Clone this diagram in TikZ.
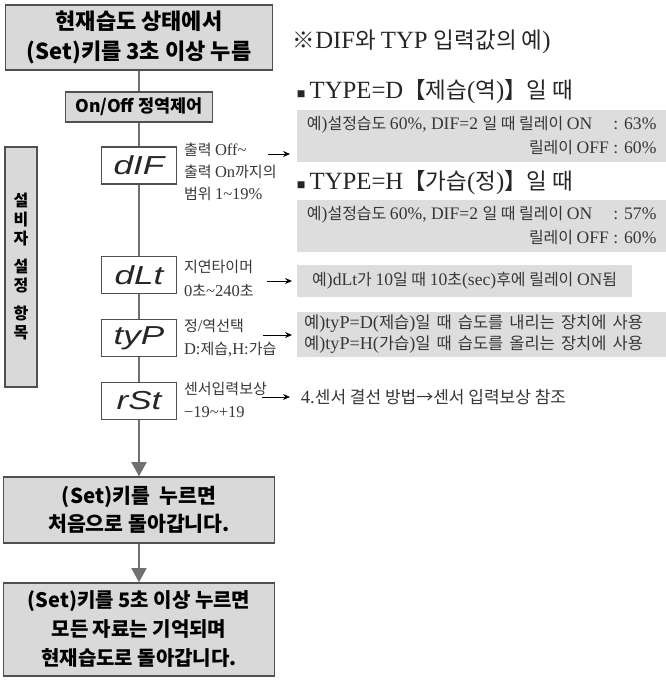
\documentclass[tikz,border=0pt]{standalone}
\usepackage{fontspec}
\setmainfont{Liberation Serif}[Scale=1.1]
\newfontfamily\krfont{Noto Sans CJK KR}[WordSpace=1.6]
\newfontfamily\krbold{Noto Sans CJK KR}
\newfontfamily\segfont{Liberation Sans}[FakeStretch=1.35]
\usetikzlibrary{shapes, arrows, arrows.meta, positioning}

\definecolor{boxgray}{RGB}{217,217,217}
\definecolor{exgray}{RGB}{221,221,221}
\definecolor{edgegray}{RGB}{80,80,80}
\definecolor{linegray}{RGB}{112,112,112}
\definecolor{textgray}{RGB}{55,55,55}

% hangul in the gothic font, latin in the serif one
\XeTeXinterchartokenstate=1
\newXeTeXintercharclass\hangulclass
\newcount\hcode
\hcode="AC00
\loop
  \XeTeXcharclass\hcode=\hangulclass
  \advance\hcode by 1
\ifnum\hcode<"D7A4 \repeat
\XeTeXcharclass"203B=\hangulclass
\XeTeXcharclass"2192=\hangulclass
\XeTeXcharclass"3010=\hangulclass
\XeTeXcharclass"3011=\hangulclass
\newcommand{\latinfont}{\rmfamily}
\XeTeXinterchartoks 0 \hangulclass = {\krfont}
\XeTeXinterchartoks 4095 \hangulclass = {\krfont}
\XeTeXinterchartoks \hangulclass 0 = {\latinfont}
\XeTeXinterchartoks 4095 0 = {\latinfont}

\newcommand{\gothic}{\XeTeXinterchartokenstate=0 \krbold\bfseries}
\newcommand{\segment}{\XeTeXinterchartokenstate=0 \segfont\itshape}
\newcommand{\sqmark}{{\fontsize{13}{13}\selectfont■}\,}

\begin{document}
\begin{tikzpicture}[x=1pt, y=1pt, node distance=63pt]
        \tikzstyle{keybox} = [rectangle, minimum width=267pt, minimum height=65pt, text centered, align=center, draw=edgegray, line width=1.6pt, fill=boxgray, font=\gothic\fontsize{22}{30}\selectfont]
        \tikzstyle{stepbox} = [rectangle, minimum width=147pt, minimum height=30pt, text centered, draw=edgegray, line width=1.6pt, fill=boxgray, font=\gothic\fontsize{17.5}{20}\selectfont]
        \tikzstyle{segbox} = [rectangle, minimum width=75pt, minimum height=37pt, text centered, draw=edgegray, line width=1.4pt, fill=white, text=black!85, font=\segment\fontsize{26}{28}\selectfont]
        \tikzstyle{endbox} = [rectangle, minimum width=271pt, text centered, align=center, draw=edgegray, line width=1.6pt, fill=boxgray, font=\gothic\fontsize{20.5}{28}\selectfont]
        \tikzstyle{sidebox} = [rectangle, minimum width=32pt, minimum height=240pt, text centered, align=center, draw=edgegray, line width=1.4pt, fill=boxgray, font=\gothic\fontsize{16}{19}\selectfont]
        \tikzstyle{note} = [align=left, text=textgray, font=\fontsize{15}{22}\selectfont]
        \tikzstyle{heading} = [anchor=west, text=black!85, font=\fontsize{22.5}{25}\selectfont]
        \tikzstyle{exbox} = [anchor=west, fill=exgray, text=textgray, inner xsep=7pt, font=\fontsize{16}{24}\selectfont]
        \tikzstyle{flow} = [draw=linegray, line width=1.8pt]
        \tikzstyle{flowarrow} = [flow, -{Triangle[width=15pt, length=14pt]}]
        \tikzstyle{pointer} = [black, line width=0.8pt, -{Stealth[length=7pt, width=6pt, inset=2.5pt]}]

        \useasboundingbox (0,0) rectangle (666,-683);

        \node (top) [keybox] at (139,-37.5) {현재습도 상태에서\\(Set)키를 3초 이상 누름};
        \node (onoff) [stepbox, below of=top, yshift=-6.5pt] {On/Off 정역제어};
        \node (dif) [segbox, below of=onoff, yshift=4.5pt] {dIF};
        \node (dlt) [segbox, below of=dif, yshift=-46.5pt] {dLt};
        \node (typ) [segbox, below of=dlt] {tyP};
        \node (rst) [segbox, below of=typ] {rSt};
        \node (back) [endbox, below of=rst, yshift=-46pt, minimum height=66pt] {(Set)키를 \ 누르면\\처음으로 돌아갑니다.};
        \node (save) [endbox, below of=back, yshift=-56.5pt, minimum height=93pt, font=\gothic\fontsize{20}{29}\selectfont] {(Set)키를 5초 이상 누르면\\모든 자료는 기억되며\\현재습도로 돌아갑니다.};
        \node (items) [sidebox] at (21,-267) {설\\비\\자\\[9pt]설\\정\\[9pt]항\\목};

        \node (difnote) [note, right=3pt of dif, yshift=-6pt] {출력 Off\textasciitilde\\출력 On까지의\\범위 1\textasciitilde19\%};
        \node (dltnote) [note, right=3pt of dlt, yshift=-3pt, font=\fontsize{15}{24}\selectfont] {지연타이머\\0초\textasciitilde240초};
        \node (typnote) [note, right=3pt of typ, yshift=-0.5pt, font=\fontsize{15}{23}\selectfont] {정/역선택\\D:제습,H:가습};
        \node (rstnote) [note, right=3pt of rst, yshift=1.5pt, font=\fontsize{15}{23}\selectfont] {센서입력보상\\−19\textasciitilde+19};

        \node (remark) [heading] at (289,-42) {※DIF와 TYP 입력값의 예)};
        \node (typed) [heading] at (293,-92) {\sqmark TYPE=D【제습(역)】일 때};
        \node (exone) [exbox, minimum width=369pt, minimum height=52pt, align=right] at (297,-136) {예)설정습도 60\%, DIF=2 일 때 릴레이 ON\hspace{1.2em}: 63\%\\릴레이 OFF : 60\%};
        \node (typeh) [heading] at (293,-183) {\sqmark TYPE=H【가습(정)】일 때};
        \node (extwo) [exbox, minimum width=369pt, minimum height=52pt, align=right] at (297,-226) {예)설정습도 60\%, DIF=2 일 때 릴레이 ON\hspace{1.2em}: 57\%\\릴레이 OFF : 60\%};
        \node (exthree) [exbox, minimum width=335pt, minimum height=32pt, align=left] at (297,-281) {예)dLt가 10일 때 10초(sec)후에 릴레이 ON됨};
        \node (exfour) [exbox, text width=355pt, minimum height=45pt, align=left, font=\fontsize{16.5}{21}\selectfont] at (297,-334.5) {예)tyP=D(제습)일 때 습도를 내리는 장치에 사용\\예)tyP=H(가습)일 때 습도를 올리는 장치에 사용};
        \node (refnote) [anchor=west, text=textgray, font=\fontsize{17}{20}\selectfont] at (297,-397) {4.센서 결선 방법→센서 입력보상 참조};

        \coordinate (difout) at (268,-154);
        \coordinate (dltout) at (267,-281);
        \coordinate (typout) at (263,-335);
        \coordinate (rstout) at (262,-397);

        \draw[flow] (top) -- (onoff);
        \draw[flow] (onoff) -- (dif);
        \draw[flow] (dif) -- (dlt);
        \draw[flow] (dlt) -- (typ);
        \draw[flow] (typ) -- (rst);
        \draw[flowarrow] (rst) -- (back);
        \draw[flowarrow] (back) -- (save);

        \draw[pointer, shorten >=7pt] (difout) -- (difout -| exone.west);
        \draw[pointer, shorten >=5pt] (dltout) -- (exthree.west);
        \draw[pointer, shorten >=5pt] (typout) -- (typout -| exfour.west);
        \draw[pointer, shorten >=7pt] (rstout) -- (refnote.west);

    \end{tikzpicture}
\end{document}
